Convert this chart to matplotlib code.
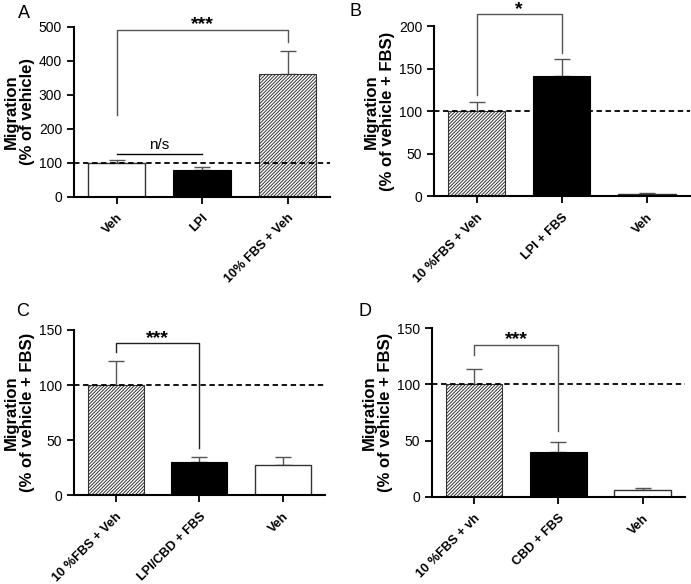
import matplotlib.pyplot as plt
import matplotlib as mpl

mpl.rcParams['font.family'] = ['Liberation Sans', 'DejaVu Sans']
mpl.rcParams['hatch.linewidth'] = 0.7

# panel A
a_labels = ['Veh', 'LPI', '10% FBS + Veh']
a_values = [100, 80, 360]
a_errors = [7, 9, 70]
a_styles = ['white', 'black', 'hatch']

# panel B
b_labels = ['10 %FBS + Veh', 'LPI + FBS', 'Veh']
b_values = [100, 142, 3]
b_errors = [11, 19, 1]
b_styles = ['hatch', 'black', 'white']

# panel C
c_labels = ['10 %FBS + Veh', 'LPI/CBD + FBS', 'Veh']
c_values = [100, 30, 27]
c_errors = [22, 5, 8]
c_styles = ['hatch', 'black', 'white']

# panel D
d_labels = ['10 %FBS + vh', 'CBD + FBS', 'Veh']
d_values = [100, 40, 6]
d_errors = [14, 9, 2]
d_styles = ['hatch', 'black', 'white']

fig = plt.figure(figsize=(6.91, 5.84), dpi=100)

axA = fig.add_axes([0.107, 0.663, 0.371, 0.291])
axB = fig.add_axes([0.628, 0.664, 0.370, 0.291])
axC = fig.add_axes([0.107, 0.152, 0.363, 0.283])
axD = fig.add_axes([0.625, 0.149, 0.366, 0.289])


def draw_panel(ax, labels, values, errors, styles, ymax, step, ylabel):
    x = range(len(values))
    for i in x:
        st = styles[i]
        if st == 'hatch':
            ax.bar(i, values[i], width=0.67, color='white', edgecolor='#333333',
                   hatch='//////////', linewidth=0.8, zorder=2)
        elif st == 'black':
            ax.bar(i, values[i], width=0.67, color='black', edgecolor='black',
                   linewidth=0.8, zorder=2)
        else:
            ax.bar(i, values[i], width=0.67, color='white', edgecolor='#333333',
                   linewidth=1.0, zorder=2)
        ax.errorbar(i, values[i], yerr=[[0], [errors[i]]], fmt='none',
                    ecolor='#555555', elinewidth=1.0, capsize=6, capthick=1.0,
                    zorder=1)
    ax.axhline(100, color='black', linestyle=(0, (3, 2)), linewidth=1.3, zorder=3)
    ax.set_xlim(-0.5, 2.5)
    ax.set_ylim(0, ymax)
    ax.set_yticks(range(0, ymax + 1, step))
    ax.set_xticks(list(x))
    ax.set_xticklabels(labels, rotation=45, ha='right', rotation_mode='anchor',
                       fontweight='bold', fontsize=9.2)
    ax.tick_params(axis='y', labelsize=10, length=5, width=1.3)
    ax.tick_params(axis='x', length=5, width=1.3, pad=6)
    for s in ['top', 'right']:
        ax.spines[s].set_visible(False)
    for s in ['left', 'bottom']:
        ax.spines[s].set_linewidth(1.5)
    ax.set_ylabel(ylabel, fontweight='bold', fontsize=12, linespacing=1.05,
                  labelpad=3)


def bracket(ax, x1, x2, y1, ytop, y2, text, color='#555555', ty=None):
    ax.plot([x1, x1, x2, x2], [y1, ytop, ytop, y2], color=color, linewidth=1.0,
            clip_on=False, zorder=4)
    ax.text((x1 + x2) / 2, ty, text, ha='center', va='center', fontsize=14,
            fontweight='bold', clip_on=False)


draw_panel(axA, a_labels, a_values, a_errors, a_styles, 500, 100,
           'Migration\n(% of vehicle)')
bracket(axA, 0, 2, 240, 490, 455, '***', ty=506)
axA.plot([0, 1], [127, 127], color='black', linewidth=1.0)
axA.text(0.5, 152, 'n/s', ha='center', va='center', fontsize=11)

draw_panel(axB, b_labels, b_values, b_errors, b_styles, 200, 50,
           'Migration\n(% of vehicle + FBS)')
bracket(axB, 0, 1, 119, 215, 169, '*', ty=220)

draw_panel(axC, c_labels, c_values, c_errors, c_styles, 150, 50,
           'Migration\n(% of vehicle + FBS)')
bracket(axC, 0, 1, 130, 138, 43, '***', color='#222222', ty=142)

draw_panel(axD, d_labels, d_values, d_errors, d_styles, 150, 50,
           'Migration\n(% of vehicle + FBS)')
bracket(axD, 0, 1, 126, 135.5, 59, '***', ty=139.5)

fig.text(18 / 691, 1 - 14 / 584, 'A', fontsize=13, ha='left', va='center')
fig.text(349 / 691, 1 - 11 / 584, 'B', fontsize=13, ha='left', va='center')
fig.text(16 / 691, 1 - 312 / 584, 'C', fontsize=13, ha='left', va='center')
fig.text(358 / 691, 1 - 312 / 584, 'D', fontsize=13, ha='left', va='center')

fig.savefig('out.png', dpi=100)
